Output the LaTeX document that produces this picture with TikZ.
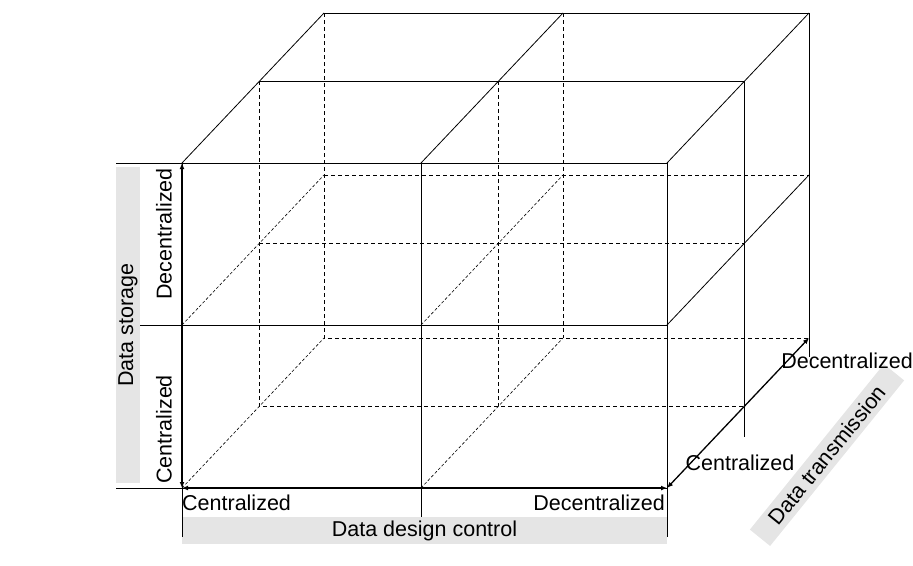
\documentclass[tikz,border=0pt]{standalone}
\usepackage{fontspec}
\setmainfont{Liberation Sans}
\usepackage{tikz}
\usetikzlibrary{arrows.meta}

\tikzset{
  edge/.style={line width=0.8pt},
  hidden/.style={line width=0.8pt,dash pattern=on 4pt off 3pt},
  hiddendiag/.style={line width=0.6pt,dash pattern=on 3pt off 2pt},
  axisarrow/.style={line width=1.3pt,{Latex[length=6pt,width=5pt]}-{Latex[length=6pt,width=5pt]}},
  band/.style={fill=black!10},
  lab/.style={inner sep=0pt,font=\fontsize{21.5}{26}\selectfont}
}

\begin{document}
\begin{tikzpicture}[x=1pt,y=-1pt]
\useasboundingbox (0,0) rectangle (913,565);

\foreach \lay/\dx/\dy in {f/0/0,m/77/-82,b/142/-150}{
  \foreach \col/\xx in {L/182,M/421,R/667}{
    \foreach \row/\yy in {T/163,M/325,B/488}{
      \coordinate (\lay\row\col) at (\xx+\dx,\yy+\dy);
    }
  }
}

\node[band,lab,rotate=90,minimum width=316,minimum height=24] (store) at (128,325) {Data storage};
\node[band,lab,minimum width=485,minimum height=27] (design) at (424.5,530.5) {Data design control};
\node[band,lab,rotate=51,minimum width=213,minimum height=26] (trans) at (827,455) {Data transmission};

\coordinate (storeT) at (116,163);
\coordinate (storeB) at (116,488);
\coordinate (storeM) at (140,325);
\coordinate (designL) at (182,537);
\coordinate (designR) at (667,537);
\coordinate (transM) at (744,437);
\coordinate (transB) at (809,357);

\draw[hidden] (mTL) -- (mBL) -- (mBR) (mML) -- (mMR) (mTM) -- (mBM);
\draw[hidden] (bTL) -- (bBL) -- (bBR) (bML) -- (bMR) (bTM) -- (bBM);
\draw[hiddendiag] (fML) -- (bML) (fBL) -- (bBL) (fMM) -- (bMM) (fBM) -- (bBM);

\draw[edge] (fTL) rectangle (fBR);
\draw[edge] (fML) -- (fMR) (fTM) -- (fBM);
\draw[edge] (mTL) -- (mTR) -- (transM);
\draw[edge] (bTL) -- (bTR) -- (transB);
\draw[edge] (fTL) -- (bTL) (fTM) -- (bTM) (fTR) -- (bTR) (fMR) -- (bMR);

\draw[edge] (storeT) -- (fTL) (storeB) -- (fBL) (storeM) -- (fML);
\draw[edge] (fBL) -- (designL) (fBR) -- (designR) (fBM) -- (fBM |- design.north);

\draw[axisarrow] (fBL) -- (fTL);
\draw[axisarrow] (fBL) -- (fBR);
\draw[axisarrow] (fBR) -- (bBR);

\node[lab,rotate=90,anchor=south east] (storehi) at (172,168) {Decentralized};
\node[lab,rotate=90,anchor=south west] (storelo) at (172,484) {Centralized};
\node[lab,anchor=north west] (designlo) at (182,495) {Centralized};
\node[lab,anchor=north east] (designhi) at (665,495) {Decentralized};
\node[lab] (translo) at (740,463) {Centralized};
\node[lab] (transhi) at (847,361) {Decentralized};

\end{tikzpicture}
\end{document}
